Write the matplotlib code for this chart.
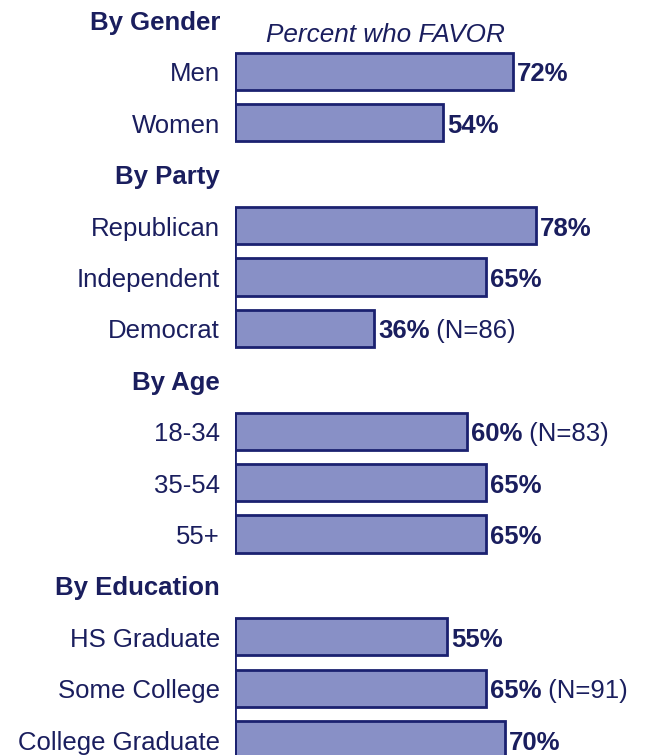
import matplotlib
matplotlib.use("Agg")
import matplotlib.pyplot as plt

# ---- data ----
group_titles = ["By Gender", "By Party", "By Age", "By Education"]
gender_labels = ["Men", "Women"]
gender_values = [72, 54]
gender_notes = ["", ""]
party_labels = ["Republican", "Independent", "Democrat"]
party_values = [78, 65, 36]
party_notes = ["", "", "(N=86)"]
age_labels = ["18-34", "35-54", "55+"]
age_values = [60, 65, 65]
age_notes = ["(N=83)", "", ""]
edu_labels = ["HS Graduate", "Some College", "College Graduate"]
edu_values = [55, 65, 70]
edu_notes = ["", "(N=91)", ""]
subtitle = "Percent who FAVOR"

groups = [
    (group_titles[0], gender_labels, gender_values, gender_notes),
    (group_titles[1], party_labels, party_values, party_notes),
    (group_titles[2], age_labels, age_values, age_notes),
    (group_titles[3], edu_labels, edu_values, edu_notes),
]

# ---- style ----
W, H = 647, 755
DPI = 100
FILL = "#8890c6"
EDGE = "#1b2170"
TEXT = "#1a1e5e"
FONT = ["Liberation Sans", "DejaVu Sans"]
FS = 18.5
DY = -3  # small downward nudge of text (pixels)

fig = plt.figure(figsize=(W / DPI, H / DPI), dpi=DPI)
fig.patch.set_facecolor("white")

# axes: x=0 at pixel 235, 1% = 3.86 px; rows 51.4 px apart, row 0 at y=20
left_px, px_per_pct = 235, 3.86
ax_w_px = 100 * px_per_pct
ax = fig.add_axes([left_px / W, 0, ax_w_px / W, 1])
ax.set_xlim(0, 100)
row0_px, row_px = 20.0, 51.4
ax.set_ylim((H - row0_px) / row_px, -row0_px / row_px)
ax.axis("off")

bar_h = 0.72
label_x_px = 220  # right edge of labels

row = 0
for ti, (title, labels, values, notes) in enumerate(groups):
    ax.annotate(title, xy=(0, row), xycoords="data",
                xytext=(label_x_px - left_px, DY), textcoords="offset pixels",
                ha="right", va="center", fontsize=FS, fontweight="bold",
                color=TEXT, family=FONT)
    if ti == 0:
        ax.annotate(subtitle, xy=(38.9, row + 0.23), xycoords="data",
                    xytext=(0, DY), textcoords="offset pixels",
                    ha="center", va="center", fontsize=FS + 0.3,
                    fontstyle="italic", color=TEXT, family=FONT)
    row += 1
    first = row
    for lab, val, note in zip(labels, values, notes):
        ax.barh(row, val, height=bar_h, left=0, color=FILL,
                edgecolor=EDGE, linewidth=2.0, zorder=2)
        ax.annotate(lab, xy=(0, row), xycoords="data",
                    xytext=(label_x_px - left_px, DY), textcoords="offset pixels",
                    ha="right", va="center", fontsize=FS, color=TEXT,
                    family=FONT)
        t = ax.annotate(f"{val}%", xy=(val, row), xycoords="data",
                        xytext=(4, DY), textcoords="offset pixels",
                        ha="left", va="center", fontsize=FS,
                        fontweight="bold", color=TEXT, family=FONT)
        if note:
            ax.annotate(" " + note, xy=(1, 0.5), xycoords=t,
                        ha="left", va="center", fontsize=FS, color=TEXT,
                        family=FONT)
        row += 1
    last = row - 1
    ax.plot([0, 0], [first - bar_h / 2, last + bar_h / 2], color=EDGE,
            linewidth=2.0, zorder=3, solid_capstyle="butt")

fig.savefig("out.png", dpi=DPI, facecolor="white")
